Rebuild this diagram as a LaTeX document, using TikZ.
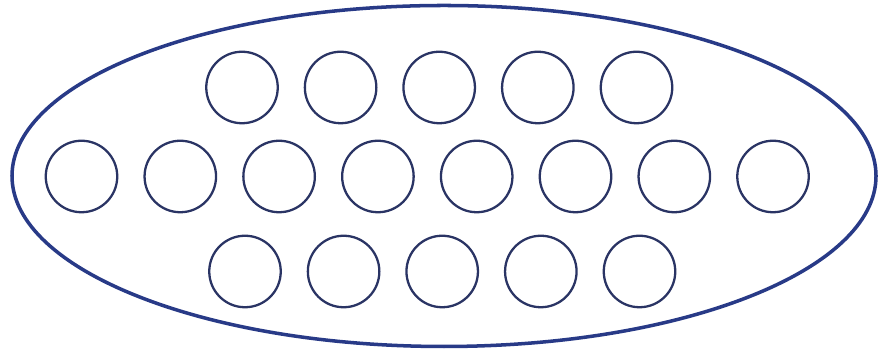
\documentclass[tikz,border=0pt]{standalone}
\usepackage{tikz}
\usetikzlibrary{shapes.geometric}

\definecolor{rimblue}{RGB}{40,58,135}
\definecolor{ringblue}{RGB}{42,52,100}

\begin{document}
\begin{tikzpicture}[
    ring/.style={circle, draw=ringblue, line width=0.65pt, minimum size=0.715cm, inner sep=0pt},
    rim/.style={ellipse, draw=rimblue, line width=1.0pt, minimum width=8.64cm, minimum height=3.41cm, inner sep=0pt}
]
    \useasboundingbox (0,0) rectangle (8.9,3.56);

    % --- Outer ellipse ---
    \node[rim] (outline) at (4.44,1.80) {};

    % --- Top row ---
    \node[ring] (t1) at (2.420,2.685) {};
    \node[ring] (t2) at (3.406,2.685) {};
    \node[ring] (t3) at (4.392,2.685) {};
    \node[ring] (t4) at (5.378,2.685) {};
    \node[ring] (t5) at (6.365,2.685) {};

    % --- Middle row ---
    \node[ring] (m1) at (0.815,1.795) {};
    \node[ring] (m2) at (1.803,1.795) {};
    \node[ring] (m3) at (2.791,1.795) {};
    \node[ring] (m4) at (3.779,1.795) {};
    \node[ring] (m5) at (4.767,1.795) {};
    \node[ring] (m6) at (5.755,1.795) {};
    \node[ring] (m7) at (6.743,1.795) {};
    \node[ring] (m8) at (7.730,1.795) {};

    % --- Bottom row ---
    \node[ring] (b1) at (2.450,0.845) {};
    \node[ring] (b2) at (3.436,0.845) {};
    \node[ring] (b3) at (4.422,0.845) {};
    \node[ring] (b4) at (5.408,0.845) {};
    \node[ring] (b5) at (6.395,0.845) {};

\end{tikzpicture}
\end{document}
